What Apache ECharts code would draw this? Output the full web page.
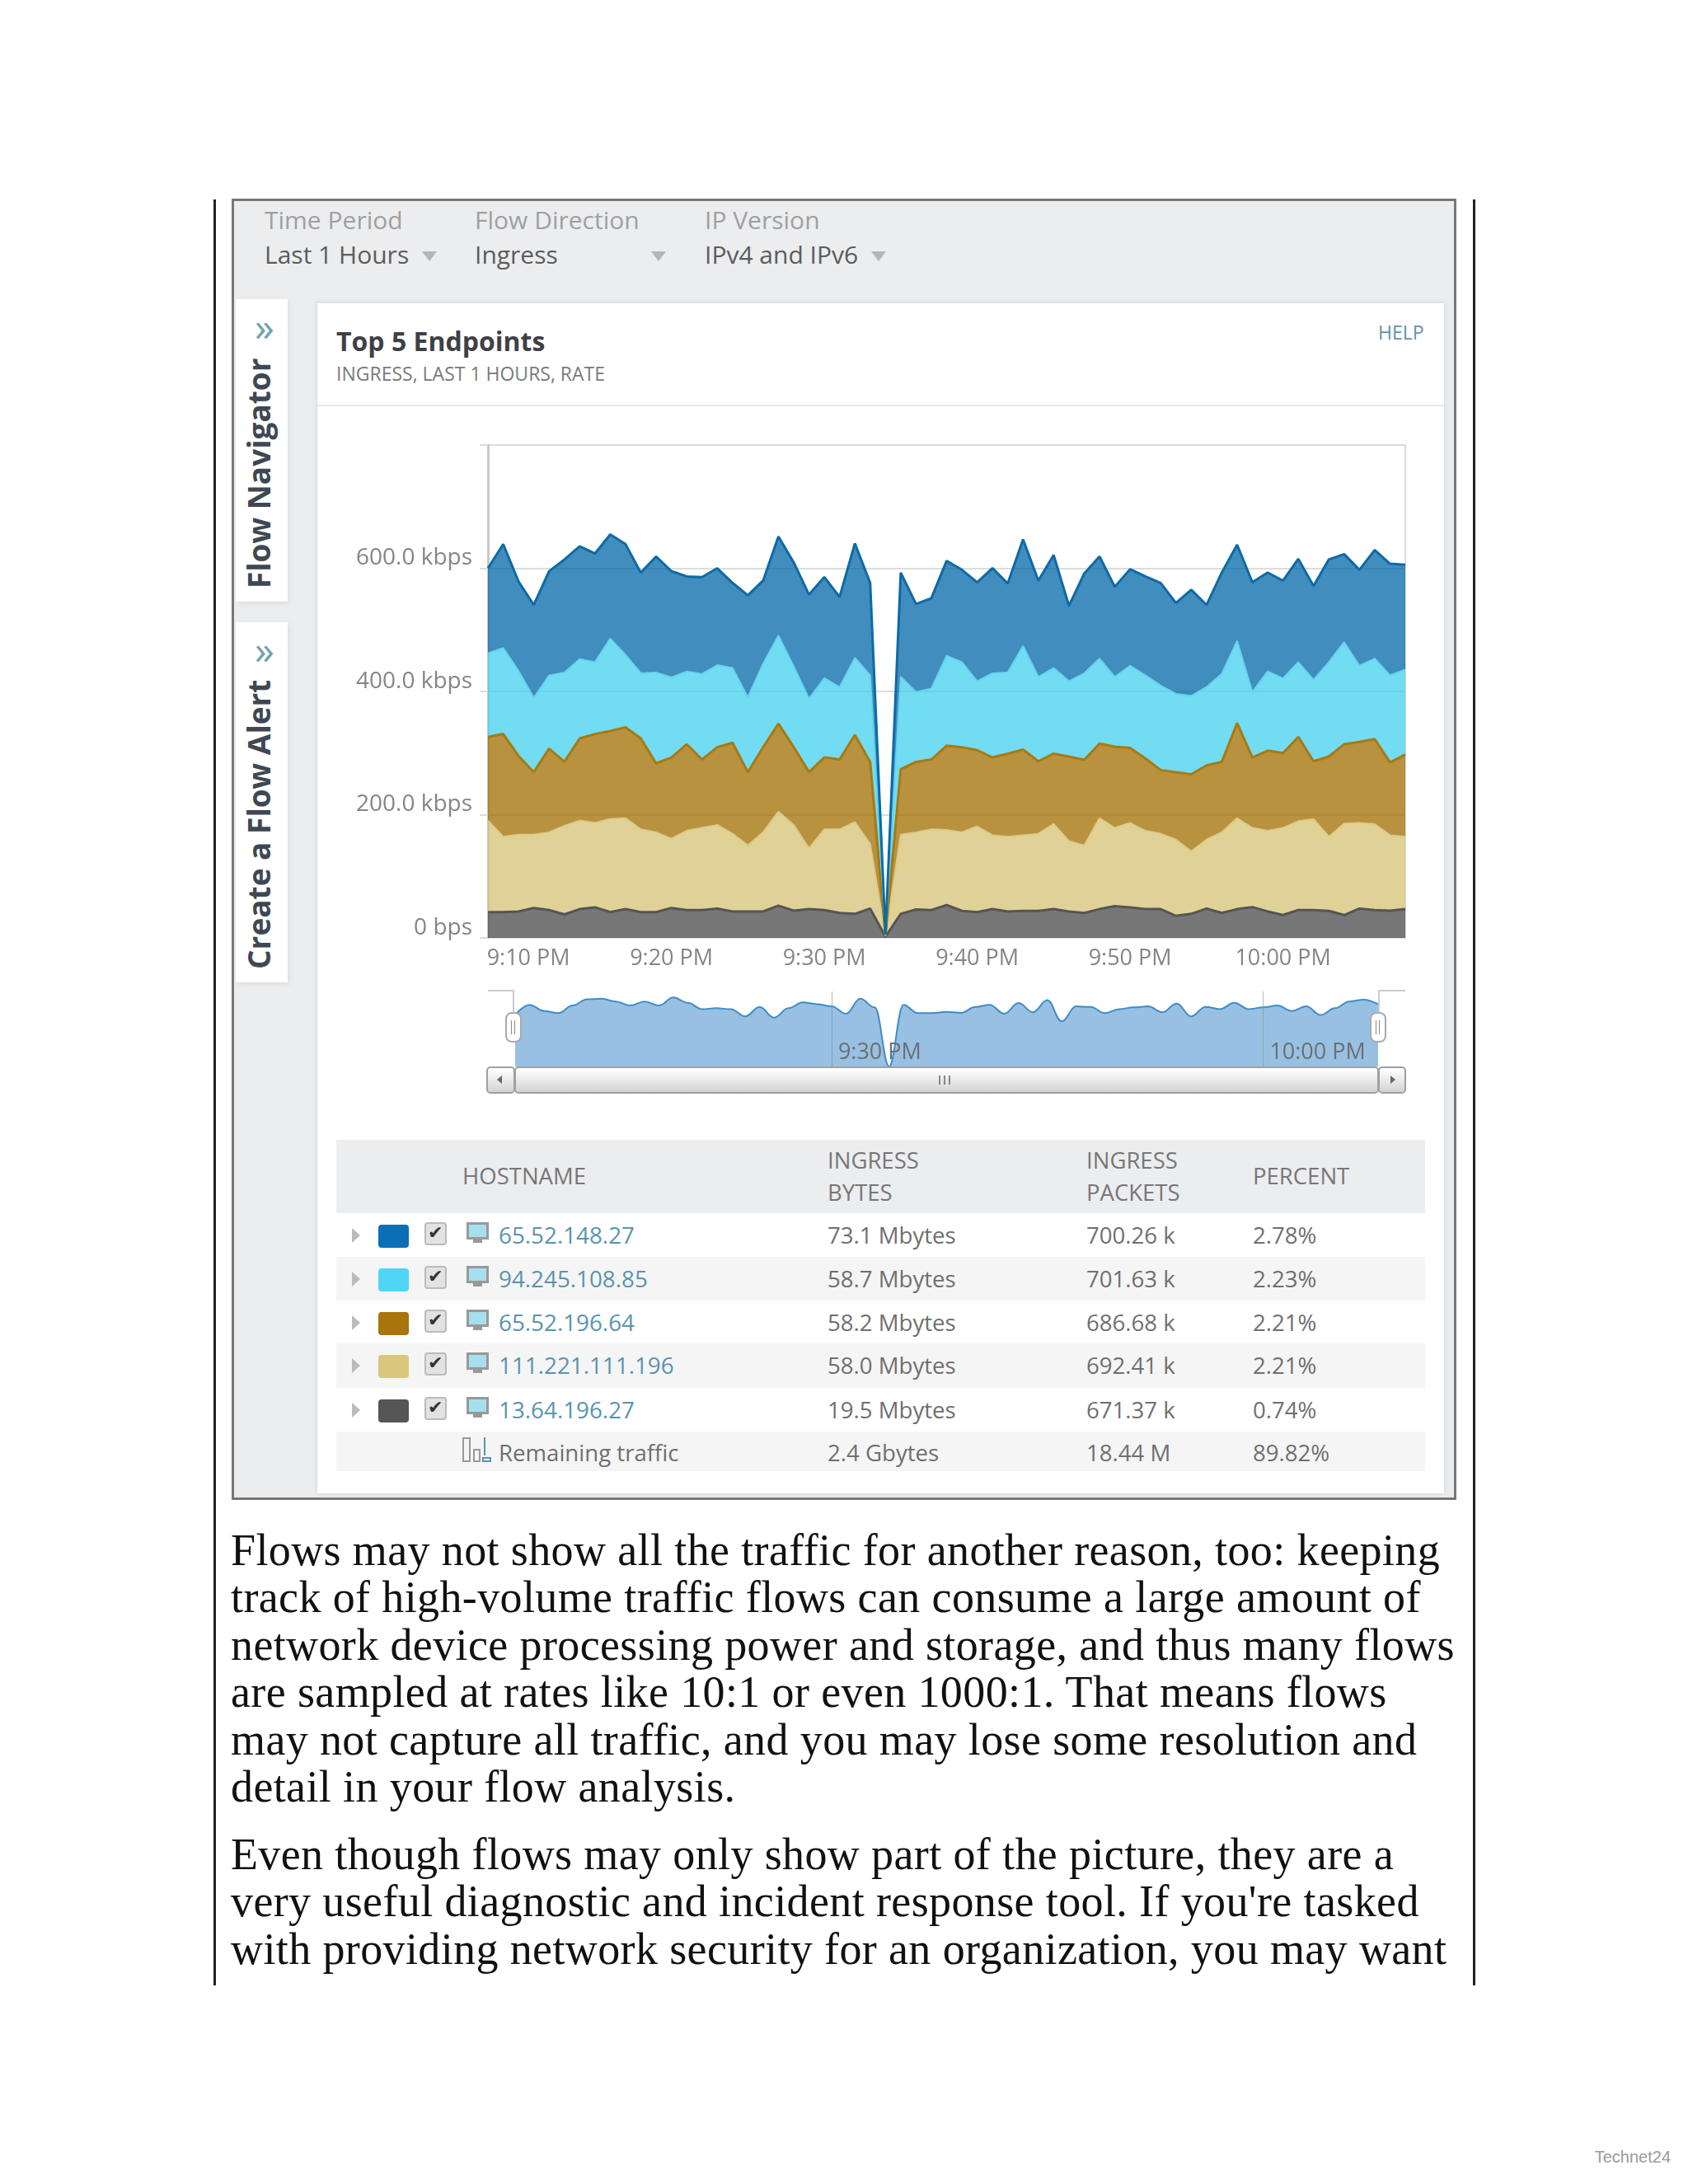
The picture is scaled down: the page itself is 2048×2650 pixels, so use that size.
<!DOCTYPE html>
<html>
<head>
<meta charset="utf-8">
<title>Top 5 Endpoints</title>
<script src="https://cdn.jsdelivr.net/npm/echarts@6/dist/echarts.min.js"></script>
<style>
html,body{margin:0;padding:0;background:#fff;}
#page{position:relative;width:2048px;height:2650px;overflow:hidden;font-family:"Open Sans",sans-serif;}
#page div{position:absolute;white-space:nowrap;}
#main{left:0;top:0;width:2048px;height:2650px;z-index:5;}
.over{z-index:6;}
.line{font-family:"Liberation Serif",serif;font-size:54px;letter-spacing:0.38px;line-height:60px;color:#111;left:280px;}
.hdr{font-size:27.5px;line-height:36px;color:#777;}
.cell{font-size:27.6px;line-height:36px;color:#6f6f6f;}
.host{font-size:27.8px;line-height:36px;color:#5a94ae;}
.lbl{font-size:30px;line-height:36px;color:#a0a0a0;}
.val{font-size:30px;line-height:36px;color:#5c5c5c;}
.arrow{width:0;height:0;border-left:9px solid transparent;border-right:9px solid transparent;border-top:12px solid #b4b6b8;}
.tab{font-size:37px;font-weight:700;line-height:40px;color:#3f4852;transform:rotate(-90deg);transform-origin:0 0;}
.chev{font-size:48px;line-height:40px;color:#6fa3ad;}
.btn{background:linear-gradient(#fff,#d4d4d4);border:2px solid #a0a0a0;border-radius:5px;box-sizing:border-box;}
</style>
</head>
<body>
<div id="page">
  <div style="left:259px;top:242px;width:3px;height:2167px;background:#222"></div>
  <div style="left:1787px;top:242px;width:3px;height:2167px;background:#222"></div>
  <div style="left:281px;top:241px;width:1486px;height:1579px;box-sizing:border-box;background:#ecedef;border:3px solid #777"></div>

  <div class="lbl" style="left:321px;top:249px">Time Period</div>
  <div class="val" style="left:321px;top:291px">Last 1 Hours</div>
  <div class="arrow" style="left:512px;top:305px"></div>
  <div class="lbl" style="left:576px;top:249px">Flow Direction</div>
  <div class="val" style="left:576px;top:291px">Ingress</div>
  <div class="arrow" style="left:790px;top:305px"></div>
  <div class="lbl" style="left:855px;top:249px">IP Version</div>
  <div class="val" style="left:855px;top:291px">IPv4 and IPv6</div>
  <div class="arrow" style="left:1057px;top:305px"></div>

  <div style="left:286px;top:363px;width:63px;height:367px;background:#fff;box-shadow:2px 2px 5px #ddd"></div>
  <div style="left:286px;top:755px;width:63px;height:437px;background:#fff;box-shadow:2px 2px 5px #ddd"></div>
  <div class="chev" style="left:309px;top:376px">»</div>
  <div class="chev" style="left:309px;top:768px">»</div>
  <div class="tab" style="left:294px;top:714px">Flow Navigator</div>
  <div class="tab" style="left:294px;top:1176px">Create a Flow Alert</div>

  <div style="left:385px;top:368px;width:1367px;height:1444px;background:#fff;box-shadow:0 0 6px #cfcfcf"></div>
  <div style="left:385px;top:491px;width:1367px;height:2px;background:#e8e8e8"></div>
  <div style="left:408px;top:391px;font-size:32px;font-weight:700;line-height:46px;color:#3f4046">Top 5 Endpoints</div>
  <div style="left:408px;top:438px;font-size:23px;line-height:30px;color:#7a7a7a">INGRESS, LAST 1 HOURS, RATE</div>
  <div style="left:1672px;top:388px;font-size:23px;line-height:30px;color:#5f93a5">HELP</div>

  <div id="main"></div>

  <!-- navigator handles and scrollbar -->
  <div class="over" style="left:592px;top:1201px;width:32px;height:28px;box-sizing:border-box;border-top:2px solid #ccc;border-right:2px solid #ccc"></div>
  <div class="over" style="left:1672px;top:1201px;width:33px;height:28px;box-sizing:border-box;border-top:2px solid #ccc;border-left:2px solid #ccc"></div>
  <div class="over" style="left:613px;top:1228px;width:20px;height:37px;box-sizing:border-box;background:#fff;border:2px solid #aaa;border-radius:8px"></div>
  <div class="over" style="left:1662px;top:1228px;width:20px;height:37px;box-sizing:border-box;background:#fff;border:2px solid #aaa;border-radius:8px"></div>
  <div class="over" style="left:620px;top:1238px;width:1px;height:17px;background:#888;box-shadow:4px 0 0 #888"></div>
  <div class="over" style="left:1669px;top:1238px;width:1px;height:17px;background:#888;box-shadow:4px 0 0 #888"></div>
  <div class="over btn" style="left:590px;top:1294px;width:35px;height:33px"></div>
  <div class="over btn" style="left:624px;top:1294px;width:1049px;height:33px"></div>
  <div class="over btn" style="left:1672px;top:1294px;width:34px;height:33px"></div>
  <div class="over" style="left:603px;top:1305px;width:0;height:0;border-top:5px solid transparent;border-bottom:5px solid transparent;border-right:6px solid #666"></div>
  <div class="over" style="left:1687px;top:1305px;width:0;height:0;border-top:5px solid transparent;border-bottom:5px solid transparent;border-left:6px solid #666"></div>
  <div class="over" style="left:1139px;top:1305px;width:2px;height:11px;background:#888;box-shadow:6px 0 0 #888,12px 0 0 #888"></div>

  <div id="table"></div>
  <div id="text"></div>
  <div style="right:21px;top:2605px;font-family:'Liberation Sans',sans-serif;font-size:20px;line-height:24px;color:#999">Technet24</div>
</div>

<script type="text/javascript">
// minutes on the time axis
var minutes = ['9:08 PM','9:09 PM','9:10 PM','9:11 PM','9:12 PM','9:13 PM','9:14 PM','9:15 PM','9:16 PM','9:17 PM','9:18 PM','9:19 PM','9:20 PM','9:21 PM','9:22 PM','9:23 PM','9:24 PM','9:25 PM','9:26 PM','9:27 PM','9:28 PM','9:29 PM','9:30 PM','9:31 PM','9:32 PM','9:33 PM','9:34 PM','9:35 PM','9:36 PM','9:37 PM','9:38 PM','9:39 PM','9:40 PM','9:41 PM','9:42 PM','9:43 PM','9:44 PM','9:45 PM','9:46 PM','9:47 PM','9:48 PM','9:49 PM','9:50 PM','9:51 PM','9:52 PM','9:53 PM','9:54 PM','9:55 PM','9:56 PM','9:57 PM','9:58 PM','9:59 PM','10:00 PM','10:01 PM','10:02 PM','10:03 PM','10:04 PM','10:05 PM','10:06 PM','10:07 PM','10:08 PM'];
var xTicks = ['9:10 PM','9:20 PM','9:30 PM','9:40 PM','9:50 PM','10:00 PM'];
var navTicks = ['9:30 PM','10:00 PM'];
var yTicks = {0:'0 bps',200:'200.0 kbps',400:'400.0 kbps',600:'600.0 kbps',800:''};

// kbps per endpoint
var host1 = [138.1,168.6,145.2,151,169,183.3,183.3,176.2,169,179.5,163.3,188.1,172.4,154.3,157.1,157.1,138.1,165.7,134.8,161,169,169,164.3,146.2,185.7,150,1,169,142.9,146.7,153.8,150,160.5,170.5,144.3,172.9,156.2,183.3,122.4,161.9,165.7,146.2,156.7,160.5,166.7,147.6,172.4,133.3,164.3,156.2,178.1,160.5,158.6,167.6,152.4,166.7,142.9,155.7,176.2,181,170];
var host2 = [135.7,139.5,138.1,120.5,119,145.2,128.6,116.7,150,117.6,105.7,147.6,130,118.1,139,133.3,121.4,121.4,135.7,142.9,131,119,128.6,117.6,125.2,140.5,0.5,150,113.3,115.2,146.2,138.1,111.9,136.7,131.9,168.1,137.1,139,122.4,140.5,138.1,113.3,133.3,134.8,137.1,127.1,127.1,127.1,142.9,133.3,106.2,128.6,121.4,121.4,132.4,153.3,165.7,123.8,130.5,141.4,138.1];
var host3 = [135.7,166.7,127.6,101.4,135.7,103.8,133.3,144.3,142.9,147.6,147.6,111.9,131.9,140.5,111,126.2,147.6,119,138.1,142.9,126.2,123.8,116.7,113.3,141.4,133.3,0.5,106.2,114.3,113.3,136.7,138.1,123.8,126.2,134.8,139,117.6,114.3,137.1,139,121,131.9,121.9,117.6,103.3,109.5,125.2,120.5,114.3,154.3,114.3,130,121.4,136.7,93.8,130,128.6,131.4,138.1,118.1,133.3];
var host4 = [148.6,122.4,124.8,119,126.2,143.8,143.8,137.1,151,147.6,134.3,129.5,112.4,128.6,133.3,135.7,126.2,107.1,128.6,152.4,139,98.6,131,135.7,149,104.8,1,128.6,125.2,131,121.9,127.6,139,120,121.4,122.9,125.2,138.1,114.3,109.5,147.6,127.1,137.1,127.1,122.4,123.8,101.4,111.9,131,147.6,128.6,131,141.4,144.3,147.6,120.5,148.6,139,139.5,122.4,117.6];
var host5 = [41.9,41.9,42.9,48.6,45.2,38.1,46.7,49.5,41.9,46.7,41.9,41.9,48.6,45.2,45.2,47.6,42.9,42.9,42.9,52.4,44.3,46.7,45.2,40.5,39,47.6,2,39,46.2,45.2,53.3,43.8,41.9,46.7,42.9,43.8,43.8,46.7,42.9,40.5,46.7,51.4,49.5,46.7,46.7,35.7,39,47.6,40.5,46.7,50,42.9,37.1,45.2,45.2,43.8,37.1,47.6,45.2,44.3,46.7];

// the smoothed overview curve under the main chart
var overview = [549,658,592,569,650,716,722,693,650,693,650,736,679,612,621,612,534,635,520,621,684,664,641,563,722,630,0,658,569,569,583,572,635,658,563,676,578,708,482,641,635,569,612,630,641,578,670,534,635,612,679,612,630,650,592,641,549,621,693,713,664];

// table
var hostnames = ['65.52.148.27','94.245.108.85','65.52.196.64','111.221.111.196','13.64.196.27'];
var swatches = ['#0a6fb4','#4fd6f6','#a9740a','#d9c77e','#555555'];
var ingressBytes = ['73.1 Mbytes','58.7 Mbytes','58.2 Mbytes','58.0 Mbytes','19.5 Mbytes','2.4 Gbytes'];
var ingressPackets = ['700.26 k','701.63 k','686.68 k','692.41 k','671.37 k','18.44 M'];
var percents = ['2.78%','2.23%','2.21%','2.21%','0.74%','89.82%'];
var rowTops = [1472,1525,1578,1630,1684,1737];
var rowBottoms = [1525,1578,1630,1684,1737,1785];

var bodyLines = [
  'Flows may not show all the traffic for another reason, too: keeping',
  'track of high-volume traffic flows can consume a large amount of',
  'network device processing power and storage, and thus many flows',
  'are sampled at rates like 10:1 or even 1000:1. That means flows',
  'may not capture all traffic, and you may lose some resolution and',
  'detail in your flow analysis.',
  'Even though flows may only show part of the picture, they are a',
  'very useful diagnostic and incident response tool. If you\'re tasked',
  'with providing network security for an organization, you may want'
];
var bodyLineTops = [1851,1908,1966,2023,2081,2138,2220,2277,2335];

function el(parent, cls, style, html) {
  var d = document.createElement('div');
  if (cls) d.className = cls;
  d.style.cssText = style;
  if (html) d.textContent = html;
  parent.appendChild(d);
  return d;
}

// table rows
var table = document.getElementById('table');
table.style.cssText = 'left:0;top:0';
el(table, '', 'left:408px;top:1383px;width:1321px;height:89px;background:#ecedef');
el(table, 'hdr', 'left:561px;top:1409px', 'HOSTNAME');
el(table, 'hdr', 'left:1004px;top:1390px', 'INGRESS');
el(table, 'hdr', 'left:1004px;top:1429px', 'BYTES');
el(table, 'hdr', 'left:1318px;top:1390px', 'INGRESS');
el(table, 'hdr', 'left:1318px;top:1429px', 'PACKETS');
el(table, 'hdr', 'left:1520px;top:1409px', 'PERCENT');

for (var r = 0; r < 6; r++) {
  var rowY = rowTops[r];
  var h = rowBottoms[r] - rowY;
  var mid = rowY + 27;
  if (r % 2 == 1) el(table, '', 'left:408px;top:' + rowY + 'px;width:1321px;height:' + h + 'px;background:#f5f5f5');
  if (r < 5) {
    el(table, '', 'left:427px;top:' + (mid - 9) + 'px;width:0;height:0;border-top:9px solid transparent;border-bottom:9px solid transparent;border-left:10px solid #bbb');
    el(table, '', 'left:459px;top:' + (mid - 13) + 'px;width:37px;height:28px;border-radius:4px;background:' + swatches[r]);
    // checkbox
    el(table, '', 'left:515px;top:' + (mid - 16) + 'px;width:27px;height:28px;box-sizing:border-box;border:2px solid #bbb;border-radius:4px;background:#e2e2e2');
    el(table, '', 'left:519px;top:' + (mid - 18) + 'px;font-size:22px;line-height:30px;font-family:DejaVu Sans;color:#333', '\u2714');
    // monitor
    el(table, '', 'left:566px;top:' + (mid - 16) + 'px;width:27px;height:21px;box-sizing:border-box;border:3px solid #999;background:#a6e0ee');
    el(table, '', 'left:574px;top:' + (mid + 5) + 'px;width:11px;height:4px;background:#999');
    el(table, 'host', 'left:605px;top:' + (mid - 19) + 'px', hostnames[r]);
  } else {
    // bars-with-arrow icon of the remaining traffic row
    el(table, '', 'left:561px;top:' + (mid - 20) + 'px;width:10px;height:30px;box-sizing:border-box;border:2px solid #999');
    el(table, '', 'left:574px;top:' + (mid - 6) + 'px;width:9px;height:16px;box-sizing:border-box;border:2px solid #999');
    el(table, '', 'left:587px;top:' + (mid - 20) + 'px;width:2px;height:22px;background:#5a94ae');
    el(table, '', 'left:585px;top:' + (mid + 4) + 'px;width:11px;height:6px;box-sizing:border-box;border:2px solid #5a94ae');
    el(table, 'cell', 'left:605px;top:' + (mid - 20) + 'px', 'Remaining traffic');
  }
  var ct = r < 5 ? mid - 19 : mid - 20;
  el(table, 'cell', 'left:1004px;top:' + ct + 'px', ingressBytes[r]);
  el(table, 'cell', 'left:1318px;top:' + ct + 'px', ingressPackets[r]);
  el(table, 'cell', 'left:1520px;top:' + ct + 'px', percents[r]);
}

var text = document.getElementById('text');
text.style.cssText = 'left:0;top:0';
for (var i = 0; i < bodyLines.length; i++) {
  el(text, 'line', 'top:' + bodyLineTops[i] + 'px', bodyLines[i]);
}

// chart
var myChart = echarts.init(document.getElementById('main'), null, {renderer: 'canvas'});

function areaSeries(name, data, lineColor, lineWidth, fill) {
  return {
    name: name,
    type: 'line',
    stack: 'total',
    data: data,
    showSymbol: false,
    lineStyle: {color: lineColor, width: lineWidth},
    areaStyle: {color: fill, opacity: 0.75},
    itemStyle: {color: lineColor}
  };
}

var option = {
  animation: false,
  backgroundColor: 'transparent',
  grid: [
    {left: 592, top: 540, width: 1113, height: 598, show: true, borderColor: '#dcdcdc', borderWidth: 2, backgroundColor: 'transparent'},
    {left: 625, top: 1203, width: 1047, height: 91}
  ],
  xAxis: [
    {
      type: 'category', gridIndex: 0, data: minutes, boundaryGap: false,
      axisLine: {show: false},
      axisTick: {show: false},
      axisLabel: {
        interval: function (index, value) { return xTicks.indexOf(value) >= 0; },
        color: '#858585', fontFamily: 'Open Sans', fontSize: 27, margin: 12,
        formatter: function (value) { return value == xTicks[0] ? '{first|' + value + '}' : value; },
        rich: {first: {color: '#858585', fontFamily: 'Open Sans', fontSize: 27, padding: [0, 0, 0, 24]}}
      }
    },
    {
      type: 'category', gridIndex: 1, data: minutes, boundaryGap: false, z: 10,
      axisLine: {show: false},
      axisTick: {show: false},
      splitLine: {
        show: true,
        interval: function (index, value) { return navTicks.indexOf(value) >= 0; },
        lineStyle: {color: '#7f8c96', width: 1, opacity: 0.6}
      },
      axisLabel: {
        inside: true, align: 'left', margin: 3,
        interval: function (index, value) { return navTicks.indexOf(value) >= 0; },
        color: '#6a6f73', fontFamily: 'Open Sans', fontSize: 27, padding: [0, 0, 0, 8]
      }
    }
  ],
  yAxis: [
    {
      type: 'value', gridIndex: 0, min: 0, max: 800, interval: 200,
      axisLine: {show: true, lineStyle: {color: '#c8c8c8', width: 3}},
      axisTick: {show: true, length: 10, lineStyle: {color: '#dcdcdc', width: 2}},
      splitLine: {lineStyle: {color: '#dcdcdc', width: 2}},
      axisLabel: {
        color: '#858585', fontFamily: 'Open Sans', fontSize: 28, margin: 19,
        verticalAlign: 'bottom', lineHeight: 24,
        formatter: function (v) { return yTicks[v]; }
      }
    },
    {
      type: 'value', gridIndex: 1, min: 0, max: 800, interval: 800,
      axisLine: {show: false}, axisTick: {show: false}, splitLine: {show: false}, axisLabel: {show: false}
    }
  ],
  series: [
    areaSeries(hostnames[4], host5, '#555555', 3, '#4a4a4a'),
    areaSeries(hostnames[3], host4, '#dccb8a', 2, '#d6c374'),
    areaSeries(hostnames[2], host3, '#a87a10', 3, '#a26e00'),
    areaSeries(hostnames[1], host2, '#66d4f0', 2, '#43d0ef'),
    areaSeries(hostnames[0], host1, '#0e6aa6', 3, '#0267a7'),
    {
      name: 'overview', type: 'line', xAxisIndex: 1, yAxisIndex: 1, data: overview,
      smooth: 0.4, smoothMonotone: 'x', showSymbol: false,
      lineStyle: {color: '#3f8cc8', width: 2},
      areaStyle: {color: '#98c0e2', opacity: 1}
    }
  ]
};
myChart.setOption(option);
</script>
</body>
</html>
